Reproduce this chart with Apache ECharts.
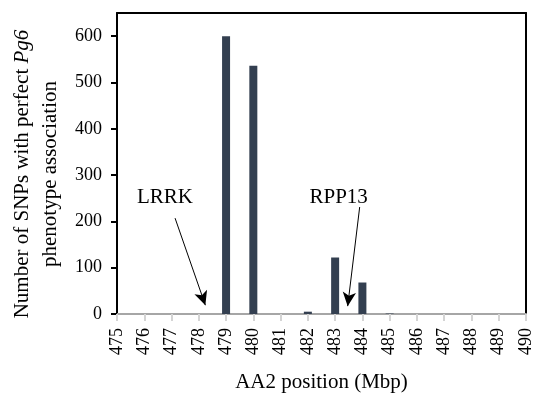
<!DOCTYPE html>
<html><head><meta charset="utf-8">
<script src="https://cdn.jsdelivr.net/npm/echarts@6/dist/echarts.min.js"></script>
<style>html,body{margin:0;padding:0;background:#fff}#c{width:533px;height:394px}</style>
</head><body><div id="c"></div>
<script>
const positions = [475,476,477,478,479,480,481,482,483,484,485,486,487,488,489,490];
const counts    = [0,0,0,0,600,536,0,5,122,68,1,0,0,0,0,0];
const yTicks = [0,100,200,300,400,500,600];
const annotations = [
  {name:'LRRK',  text:[476.76, 252], from:[477.13, 207], to:[478.24, 19]},
  {name:'RPP13', text:[483.13, 252], from:[483.9, 231], to:[483.46, 17]}
];

const font = '"Liberation Serif","Times New Roman",serif';
const chart = echarts.init(document.getElementById('c'));
chart.setOption({
  animation:false,
  textStyle:{fontFamily:font},
  grid:{left:117,right:7,top:13,bottom:80,containLabel:false,outerBoundsMode:'none'},
  xAxis:[{
    type:'value', min:475, max:490, interval:1,
    name:'AA2 position (Mbp)', nameLocation:'middle', nameGap:58,
    nameTextStyle:{fontFamily:font,fontSize:21,color:'#000'},
    axisLine:{lineStyle:{color:'#a6a6a6',width:2}},
    axisTick:{show:true,length:7,lineStyle:{color:'#d4d4d4',width:2}},
    axisLabel:{rotate:90,fontFamily:font,fontSize:18,color:'#000',margin:14},
    splitLine:{show:false}
  },{
    type:'value', position:'top', min:475, max:490,
    axisLine:{show:true,onZero:false,lineStyle:{color:'#000',width:2}},
    axisTick:{show:false}, axisLabel:{show:false}, splitLine:{show:false}
  }],
  yAxis:[{
    type:'value', min:0, max:650, interval:100,
    axisLine:{show:true,lineStyle:{color:'#000',width:2}},
    axisTick:{show:true,length:6,lineStyle:{color:'#000',width:2},
      customValues:yTicks},
    axisLabel:{fontFamily:font,fontSize:18,color:'#000',margin:15,customValues:yTicks},
    splitLine:{show:false}
  },{
    type:'value', position:'right', min:0, max:650,
    axisLine:{show:true,onZero:false,lineStyle:{color:'#000',width:2}},
    axisTick:{show:false}, axisLabel:{show:false}, splitLine:{show:false}
  }],
  graphic:[{
    type:'text', x:36, y:174, rotation:Math.PI/2,
    style:{
      text:'{n|Number of SNPs with perfect }{i|Pg6}\n{n|phenotype association}',
      align:'center', verticalAlign:'middle', lineHeight:28,
      rich:{
        n:{fontFamily:font,fontSize:21,fill:'#000',lineHeight:28},
        i:{fontFamily:font,fontSize:21,fontStyle:'italic',fill:'#000',lineHeight:28}
      }
    }
  }],
  series:[{
    type:'bar', barWidth:8,
    itemStyle:{color:'#333f50'},
    data: positions.map((p,i)=>[p,counts[i]]),
    markLine:{
      silent:true, symbol:['none','arrow'], symbolSize:[10,14],
      lineStyle:{color:'#000',width:1,type:'solid'},
      label:{show:false},
      data: annotations.map(a=>[{coord:a.from},{coord:a.to}])
    },
    markPoint:{
      symbol:'circle', symbolSize:0,
      label:{show:true,position:'inside',fontFamily:font,fontSize:21,color:'#000',
        formatter:p=>p.name},
      data: annotations.map(a=>({name:a.name,coord:a.text}))
    }
  }]
});
</script></body></html>
